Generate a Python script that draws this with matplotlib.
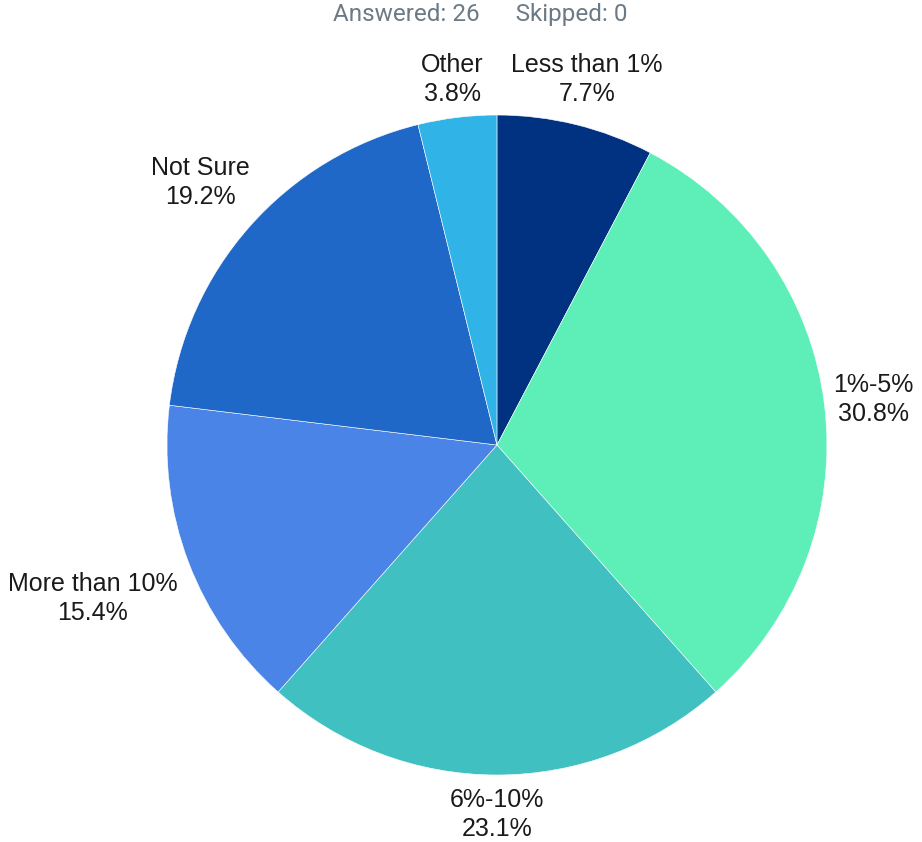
import numpy as np
import matplotlib.pyplot as plt

categories = ["Less than 1%", "1%-5%", "6%-10%", "More than 10%", "Not Sure", "Other"]
counts = [2, 8, 6, 4, 5, 1]
colors = ["#013281", "#5EEFB9", "#40C0C0", "#4A84E6", "#2068C8", "#30B3E6"]
label_dist = [1.14, 1.15, 1.12, 1.31, 1.2, 1.115]

answered = sum(counts)
skipped = 0

fig = plt.figure(figsize=(9.22, 8.42), dpi=100)
ax = fig.add_axes([0.1811, 0.0796, 0.7158, 0.7838])

wedges, _ = ax.pie(counts, colors=colors, startangle=90, counterclock=False,
                   wedgeprops=dict(edgecolor="white", linewidth=0.4))

total = float(sum(counts))
for w, name, n, d in zip(wedges, categories, counts, label_dist):
    mid = np.deg2rad((w.theta1 + w.theta2) / 2)
    ax.text(d * np.cos(mid), d * np.sin(mid), f"{name}\n{100 * n / total:.1f}%",
            ha="center", va="center", fontsize=18, family="Liberation Sans",
            color="#1a1a1a", linespacing=1.25)

ax.set_xlim(-1, 1)
ax.set_ylim(-1, 1)
ax.set_aspect("equal")
ax.axis("off")

fig.text(0.521, 0.983, f"Answered: {answered}      Skipped: {skipped}", ha="center", va="center",
         fontsize=17.5, family="Roboto", color="#6C7A86")

fig.savefig("out.png", dpi=100, facecolor="white")
